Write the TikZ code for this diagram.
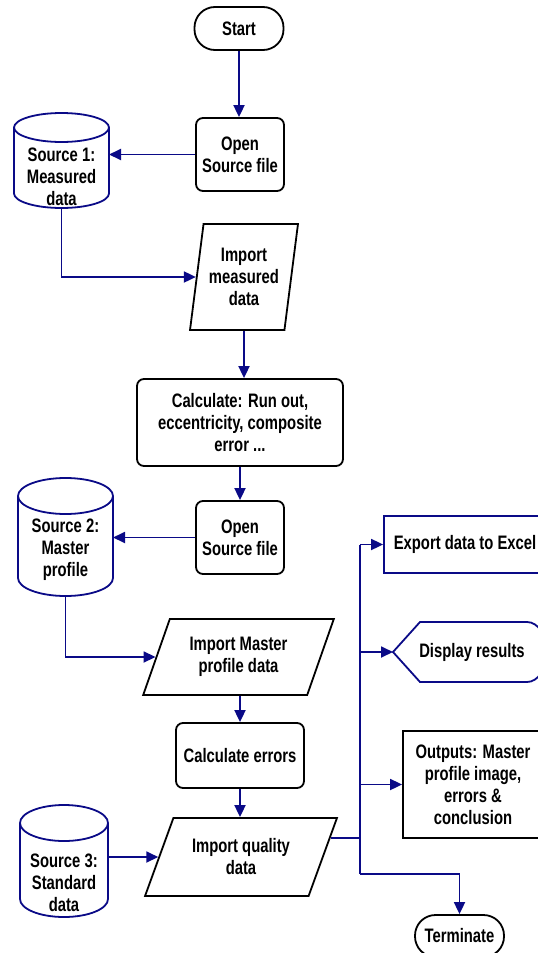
\documentclass[tikz,border=0pt]{standalone}
\usepackage{fontspec}
\newfontfamily\lab{Liberation Sans}[FakeStretch=0.76]
\usetikzlibrary{shapes.geometric,arrows.meta}
\definecolor{cnavy}{RGB}{10,10,135}
\tikzset{
  lbl/.style={font=\lab\bfseries\fontsize{19.5pt}{22pt}\selectfont, align=center, inner sep=0pt, text=black},
  box/.style={lbl, draw=black, line width=1.8pt, fill=white, rectangle, rounded corners=7pt},
  termbox/.style={lbl, draw=black, line width=1.8pt, fill=white, rectangle, rounded corners=20.5pt},
  para/.style={lbl, draw=black, line width=1.8pt, fill=white, trapezium, trapezium stretches=true},
  holder/.style={inner sep=0pt, outer sep=0pt, rectangle},
  cyl/.style={draw=cnavy, line width=1.8pt, fill=white},
  conn/.style={draw=cnavy, line width=1.8pt},
  arr/.style={conn, -{Triangle[length=12pt,width=11pt]}}
}
\begin{document}
\begin{tikzpicture}[x=1pt,y=-1pt]
\useasboundingbox (0,0) rectangle (538,953);
\clip (0,0) rectangle (538,953);
\fill[white] (0,0) rectangle (538,953);

% shapes
\node[termbox, minimum width=89pt, minimum height=43pt] (start) at (239,28.5) {Start};
\node[box, minimum width=88pt, minimum height=73pt] (o1) at (240,154.5) {Open\\Source file};

% Source 1 cylinder
\node[holder, minimum width=95pt, minimum height=95pt] (s1) at (61.5,160.5) {};
\draw[cyl] (14,127.5) -- (14,193.5) arc[start angle=180, end angle=0, x radius=47.5, y radius=14.5] -- (109,127.5);
\draw[cyl] (61.5,127.5) ellipse [x radius=47.5, y radius=14.5];
\node[lbl] (s1t) at (61.5,176.5) {Source 1:\\Measured\\data};

\node[para, trapezium left angle=78.5, trapezium right angle=101.5, minimum width=108pt, minimum height=106pt] (im1) at (244,277) {Import\\measured\\data};
\node[box, minimum width=206pt, minimum height=87pt] (c1) at (240,422.5) {Calculate: Run out,\\eccentricity, composite\\error ...};
\node[box, minimum width=88pt, minimum height=73pt] (o2) at (240,537.5) {Open\\Source file};

% Source 2 cylinder
\node[holder, minimum width=95pt, minimum height=118pt] (s2) at (65.5,537) {};
\draw[cyl] (18,496) -- (18,578) arc[start angle=180, end angle=0, x radius=47.5, y radius=18] -- (113,496);
\draw[cyl] (65.5,496) ellipse [x radius=47.5, y radius=18];
\node[lbl] (s2t) at (65.5,550) {Source 2:\\Master\\profile};

\node[para, trapezium left angle=64.3, trapezium right angle=115.7, minimum width=191pt, minimum height=76pt] (im2) at (238.5,657) {Import Master\\profile data};
\node[box, minimum width=128pt, minimum height=65pt] (ce) at (240,755.5) {Calculate errors};
\node[para, trapezium left angle=60.5, trapezium right angle=119.5, minimum width=192pt, minimum height=78pt] (iq) at (241,857) {Import quality\\data};

% Source 3 cylinder
\node[holder, minimum width=88pt, minimum height=112pt] (s3) at (64,861) {};
\draw[cyl] (20,823) -- (20,899) arc[start angle=180, end angle=0, x radius=44, y radius=18] -- (108,823);
\draw[cyl] (64,823) ellipse [x radius=44, y radius=18];
\node[lbl] (s3t) at (64,882.5) {Source 3:\\Standard\\data};

% outputs
\node[lbl, draw=cnavy, line width=1.8pt, fill=white, rectangle, minimum width=162pt, minimum height=57pt] (exp) at (465,544.5) {Export data to Excel};
\node[holder, minimum width=154pt, minimum height=60pt] (disp) at (470,652) {};
\draw[cyl] (393,652) -- (420,622) -- (527,622) arc[start angle=-90, end angle=90, x radius=20, y radius=30] -- (420,682) -- cycle;
\node[lbl] (dispt) at (472,652) {Display results};
\node[lbl, draw=black, line width=1.8pt, fill=white, rectangle, minimum width=140pt, minimum height=107pt] (out) at (473,784.5) {Outputs: Master\\profile image,\\errors \&\\conclusion};
\node[termbox, minimum width=89pt, minimum height=42pt] (term) at (459.5,936) {Terminate};

% connectors
\coordinate (bt) at (360,545);
\coordinate (bb) at (360,874);
\draw[arr] (start.south) -- (start.south |- o1.north);
\draw[arr] (o1.west) -- (o1.west -| s1.east);
\draw[arr] (s1.south) |- (im1.180);
\draw[arr] (im1.-90) -- (im1.-90 |- c1.north);
\draw[arr] (c1.south) -- (o2.north);
\draw[arr] (o2.west) -- (o2.west -| s2.east);
\draw[arr] (s2.south) |- (im2.180);
\draw[arr] (ce.north |- im2.-90) -- (ce.north);
\draw[arr] (ce.south) -- (ce.south |- iq.90);
\draw[arr] (iq.180 -| s3.east) -- (iq.180);
\draw[conn] (iq.12.7) -- (iq.12.7 -| bt);
\draw[conn] (bt |- exp.west) -- (bb);
\draw[arr] (bb) -| (term.north);
\draw[arr] (bt |- exp.west) -- (exp.west);
\draw[arr] (bt |- disp.west) -- (disp.west);
\draw[arr] (bt |- out.west) -- (out.west);
\end{tikzpicture}
\end{document}
